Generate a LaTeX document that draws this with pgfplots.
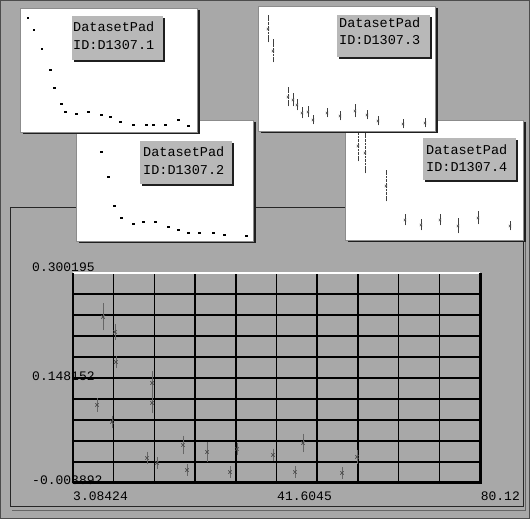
\documentclass[border=0pt]{standalone}
\usepackage{pgfplots}
\pgfplotsset{compat=1.18}
\usepackage{fontspec}
\setmainfont{Liberation Mono}
\setmonofont{Liberation Mono}
\definecolor{bg}{gray}{0.66}
\definecolor{boxbg}{gray}{0.72}
\definecolor{shadow}{gray}{0.12}
% panel: x1, ytop, x2, ybot in pixel units (y measured from top)
\newcommand\panel[4]{%
  \fill[shadow] ({(#1+2.5)*1pt},{(519-#4-2.5)*1pt}) rectangle ({(#3+2.5)*1pt},{(519-#2-2.5)*1pt});
  \fill[white] ({#1*1pt},{(519-#4)*1pt}) rectangle ({#3*1pt},{(519-#2)*1pt});
  \draw[black!45,line width=0.5pt] ({#1*1pt},{(519-#4)*1pt}) rectangle ({#3*1pt},{(519-#2)*1pt});
}
\newcommand\lbox[4]{% x1 ytop x2 ybot
  \fill[shadow] ({(#1+2)*1pt},{(519-#4-2)*1pt}) rectangle ({(#3+2)*1pt},{(519-#2-2)*1pt});
  \fill[boxbg] ({#1*1pt},{(519-#4)*1pt}) rectangle ({#3*1pt},{(519-#2)*1pt});
}
\newcommand\lboxtext[4]{% x, base1, base2, id
  \node[anchor=base west,inner sep=0pt,font=\fontsize{13.5}{14}\selectfont] at ({#1*1pt},{(519-#2)*1pt}) {DatasetPad};
  \node[anchor=base west,inner sep=0pt,font=\fontsize{13.5}{14}\selectfont] at ({#1*1pt},{(519-#3)*1pt}) {ID:D1307.#4};
}
\begin{document}
\begin{tikzpicture}
% overall background
\fill[bg] (0pt,0pt) rectangle (530pt,519pt);
\draw[black!70,line width=0.8pt] (0.4pt,0.4pt) rectangle (529.6pt,518.6pt);
% big panel
\fill[bg] (10pt,12pt) rectangle (523pt,311pt);
\draw[black!85,line width=1pt] (10pt,12pt) rectangle (523pt,311pt);
\draw[black!60,line width=0.6pt] (12pt,9pt) -- (525pt,9pt) -- (525pt,309pt);

% ---------- panel 2 ----------
\panel{76}{120}{253}{241}
\begin{axis}[anchor=south west, at={(76pt,278pt)}, scale only axis, hide axis, clip=false,
  y dir=reverse, width=177pt, height=121pt,
  xmin=76, xmax=253, ymin=120, ymax=241]
\addplot[only marks, mark=square*, mark size=0.7pt, black] coordinates {
 (101,152) (108,177) (114,206) (121,218) (133,224) (143,222) (155,222)
 (168,227) (178,230) (188,233) (199,233) (213,233) (224,235) (246,236)};
\end{axis}
\lbox{140}{141}{232}{184}
\lboxtext{143}{157}{175}{2}

% ---------- panel 1 ----------
\panel{20}{8}{197}{132}
\begin{axis}[anchor=south west, at={(20pt,387pt)}, scale only axis, hide axis, clip=false,
  y dir=reverse, width=177pt, height=124pt,
  xmin=20, xmax=197, ymin=8, ymax=132]
\addplot[only marks, mark=square*, mark size=0.7pt, black] coordinates {
 (28,18) (34,30) (42,49) (50,70) (54,88) (61,104) (65,112) (76,114)
 (88,112) (101,115) (110,117) (120,122) (133,125) (146,125) (153,125)
 (165,125) (178,120) (188,126)};
\end{axis}
\lbox{72}{16}{163}{60}
\lboxtext{73}{32}{50}{1}

% ---------- panel 4 ----------
\panel{345}{120}{523}{240}
\begin{axis}[anchor=south west, at={(345pt,279pt)}, scale only axis, hide axis, clip=false,
  y dir=reverse, width=178pt, height=120pt,
  xmin=345, xmax=523, ymin=120, ymax=240]
\addplot[only marks, mark=x, mark size=1.6pt, black!70, mark options={line width=0.5pt},
    error bars/.cd, y dir=both, y explicit,
    error bar style={densely dotted, black!75, line width=0.6pt},
    error mark options={mark size=2.5pt, solid, black!75, line width=0.5pt}]
 table[x=x,y=y,y error=e] {
x y e
358 146 13
365 153 18
386 186 13
405 220 3
421 225 3
440 220 3
458 226 5
478 218 4
510 226 2
};
\end{axis}
\lbox{423}{138}{516}{180}
\lboxtext{426}{155}{172}{4}

% ---------- panel 3 ----------
\panel{258}{6}{435}{131}
\begin{axis}[anchor=south west, at={(258pt,388pt)}, scale only axis, hide axis, clip=false,
  y dir=reverse, width=177pt, height=125pt,
  xmin=258, xmax=435, ymin=6, ymax=131]
\addplot[only marks, mark=x, mark size=1.6pt, black!70, mark options={line width=0.5pt},
    error bars/.cd, y dir=both, y explicit,
    error bar style={densely dotted, black!75, line width=0.6pt},
    error mark options={mark size=2.5pt, solid, black!75, line width=0.5pt}]
 table[x=x,y=y,y error=e] {
x y e
268 29 11
273 51 9
288 97 7
293 100 4
297 105 3
302 113 3
308 112 3
313 120 2
327 113 2
340 116 2
355 111 4
367 115 2
378 121 2
403 124 2
425 123 2
};
\end{axis}
\lbox{337}{15}{430}{57}
\lboxtext{339}{28}{45}{3}

% ---------- main plot ----------
\begin{axis}[anchor=south west, at={(73pt,36pt)}, scale only axis,
  width=407pt, height=210pt,
  xmin=3.08424, xmax=80.12, ymin=-0.003892, ymax=0.300195,
  xtick={3.08424,10.787816,18.491392,26.194968,33.898544,41.60212,49.305696,57.009272,64.712848,72.416424,80.12},
  ytick={-0.003892,0.0265167,0.0569254,0.0873341,0.1177428,0.1481515,0.1785602,0.2089689,0.2393776,0.2697863,0.300195},
  xticklabels={}, yticklabels={},
  major tick length=0pt,
  grid=major, major grid style={black, line width=1.5pt},
  axis line style={draw=none},
  axis background/.style={fill=bg},
  clip=false]
\addplot[only marks, mark=x, mark size=2.4pt, black!70, mark options={line width=0.7pt},
  error bars/.cd, y dir=both, y explicit,
  error bar style={black!60, line width=0.5pt},
  error mark options={mark size=3.5pt, black!60, line width=0.6pt}]
 table[x=x,y=y,y error=e] {
x y e
8.76 0.2365 0.0145
11.03 0.2148 0.006
11.2 0.1713 0.004
7.63 0.1091 0.005
10.47 0.0845 0.004
18.04 0.1409 0.012
18.04 0.1120 0.010
17.09 0.0323 0.004
18.98 0.0251 0.003
23.9 0.0511 0.008
28.45 0.0410 0.009
34.13 0.0453 0.004
24.66 0.0149 0.003
32.8 0.0120 0.003
40.94 0.0367 0.004
46.62 0.0540 0.008
45.1 0.0120 0.003
56.84 0.0338 0.005
54.0 0.0106 0.003
};
\draw[white,line width=1.2pt] (rel axis cs:0,1) -- (rel axis cs:1,1);
\draw[black,line width=0.7pt] (rel axis cs:0,0) -- (rel axis cs:0,1);
\draw[black,line width=3pt] (rel axis cs:1,1) -- (rel axis cs:1,0) -- (rel axis cs:0,0);
\end{axis}
% axis value labels
\node[anchor=base west,inner sep=0pt,font=\fontsize{13}{14}\selectfont] at (32pt,247pt) {0.300195};
\node[anchor=west,inner sep=0pt,font=\fontsize{13}{14}\selectfont] at (32pt,143pt) {0.148152};
\node[anchor=west,inner sep=0pt,font=\fontsize{13}{14}\selectfont] at (32pt,39pt) {-0.003892};
\node[anchor=base west,inner sep=0pt,font=\fontsize{13}{14}\selectfont] at (73pt,18pt) {3.08424};
\node[anchor=base west,inner sep=0pt,font=\fontsize{13}{14}\selectfont] at (277pt,18pt) {41.6045};
\node[anchor=base east,inner sep=0pt,font=\fontsize{13}{14}\selectfont] at (520pt,18pt) {80.12};
\pgfresetboundingbox
\path (0pt,0pt) rectangle (530pt,519pt);
\end{tikzpicture}
\end{document}
